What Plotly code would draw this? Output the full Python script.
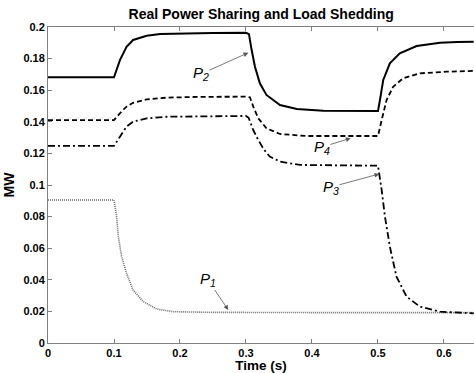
import plotly.graph_objects as go

# P2 (solid)
t_p2 = [0, 0.1, 0.109, 0.119, 0.129, 0.1495, 0.17, 0.205, 0.25, 0.3, 0.3045, 0.3086, 0.3136, 0.321, 0.331,
        0.3515, 0.377, 0.417, 0.46, 0.5, 0.503, 0.508, 0.518, 0.533, 0.5586, 0.594, 0.62, 0.645]
v_p2 = [0.1682, 0.1682, 0.179, 0.1875, 0.1918, 0.1945, 0.1956, 0.196, 0.1962, 0.1963, 0.1955, 0.1854, 0.1749, 0.1644, 0.157,
        0.1506, 0.1481, 0.147, 0.1468, 0.1468, 0.1538, 0.1665, 0.177, 0.1834, 0.188, 0.190, 0.1905, 0.1907]

# P4 (dashed)
t_p4 = [0, 0.1, 0.109, 0.119, 0.129, 0.1495, 0.18, 0.23, 0.3, 0.306, 0.311, 0.3186, 0.331, 0.3515, 0.392, 0.45,
        0.5, 0.5056, 0.513, 0.523, 0.538, 0.5636, 0.604, 0.645]
v_p4 = [0.1411, 0.1411, 0.1454, 0.1496, 0.152, 0.1542, 0.1553, 0.1558, 0.1559, 0.1555, 0.1496, 0.1422, 0.1359, 0.1323, 0.131, 0.131,
        0.131, 0.1411, 0.1538, 0.1622, 0.1675, 0.1707, 0.1717, 0.1722]

# P3 (dash-dot)
t_p3 = [0, 0.1, 0.109, 0.119, 0.129, 0.1495, 0.18, 0.24, 0.3, 0.304, 0.311, 0.3186, 0.327, 0.336, 0.3515, 0.382, 0.44,
        0.5, 0.5056, 0.5106, 0.518, 0.528, 0.5435, 0.5636, 0.594, 0.645]
v_p3 = [0.1247, 0.1247, 0.1306, 0.1369, 0.1401, 0.1422, 0.1432, 0.1436, 0.1437, 0.1425, 0.1348, 0.1285, 0.1225, 0.118, 0.1148, 0.1127, 0.1123,
        0.1122, 0.0968, 0.0799, 0.061, 0.042, 0.0293, 0.023, 0.0198, 0.0188]

# P1 (dotted)
t_p1 = [0, 0.1, 0.104, 0.1066, 0.1116, 0.119, 0.129, 0.1444, 0.1647, 0.19, 0.25, 0.321, 0.45, 0.55, 0.645]
v_p1 = [0.0905, 0.0905, 0.0799, 0.0673, 0.0546, 0.0441, 0.0335, 0.0262, 0.0215, 0.0198, 0.0194, 0.0192, 0.0192, 0.0192, 0.0192]

x_ticks = [0, 0.1, 0.2, 0.3, 0.4, 0.5, 0.6]
y_ticks = [0, 0.02, 0.04, 0.06, 0.08, 0.1, 0.12, 0.14, 0.16, 0.18, 0.2]

# label text positions (data) and arrow heads (data)
labels = ["P<sub>1</sub>", "P<sub>2</sub>", "P<sub>3</sub>", "P<sub>4</sub>"]
label_t = [0.2424, 0.2318, 0.4288, 0.415]
label_v = [0.0399, 0.1703, 0.0987, 0.124]
head_t = [0.2732, 0.3035, 0.502, 0.4586]
head_v = [0.0209, 0.1837, 0.107, 0.1296]

fig = go.Figure()
fig.add_trace(go.Scatter(x=t_p1, y=v_p1, mode="lines", line=dict(color="#6a6a6a", width=1.6, dash="1px,1px")))
fig.add_trace(go.Scatter(x=t_p3, y=v_p3, mode="lines", line=dict(color="black", width=1.8, dash="7px,3px,2px,3px")))
fig.add_trace(go.Scatter(x=t_p4, y=v_p4, mode="lines", line=dict(color="black", width=1.8, dash="5px,3px")))
fig.add_trace(go.Scatter(x=t_p2, y=v_p2, mode="lines", line=dict(color="black", width=2)))

for i in range(4):
    fig.add_annotation(x=head_t[i], y=head_v[i], ax=label_t[i], ay=label_v[i], axref="x", ayref="y",
                       text="<i>" + labels[i] + "</i>",
                       showarrow=True, arrowhead=2, arrowsize=1.2, arrowwidth=0.8,
                       arrowcolor="#555555", standoff=0, borderpad=0,
                       font=dict(family="Liberation Sans, Arial", size=15, color="black"))

axis_font = dict(family="Liberation Sans, Arial", size=11, color="black")
fig.update_layout(
    width=474, height=373,
    margin=dict(l=48, r=0, t=27, b=30),
    paper_bgcolor="white", plot_bgcolor="white",
    showlegend=False,
    title=dict(text="<b>Real Power Sharing and Load Shedding</b>", x=0.551, xanchor="center", y=0.962, yanchor="middle",
               font=dict(family="Liberation Sans, Arial", size=14, color="black")),
    xaxis=dict(range=[0, 0.6455], tickvals=x_ticks, ticktext=["<b>%g</b>" % v for v in x_ticks],
               ticks="inside", ticklen=4, tickcolor="#808080", showline=True, linecolor="#808080", linewidth=1,
               mirror="ticks", showgrid=False, zeroline=False, tickfont=axis_font,
               title=dict(text="<b>Time (s)</b>", standoff=4, font=dict(family="Liberation Sans, Arial", size=13.5, color="black"))),
    yaxis=dict(range=[0, 0.2], tickvals=y_ticks, ticktext=["<b>%g</b>" % v for v in y_ticks],
               ticks="inside", ticklen=4, tickcolor="#808080", showline=True, linecolor="#808080", linewidth=1,
               showgrid=False, zeroline=False, tickfont=axis_font,
               title=dict(text="<b>MW</b>", standoff=5, font=dict(family="Liberation Sans, Arial", size=14, color="black"))),
)
fig.write_html("out.html")
